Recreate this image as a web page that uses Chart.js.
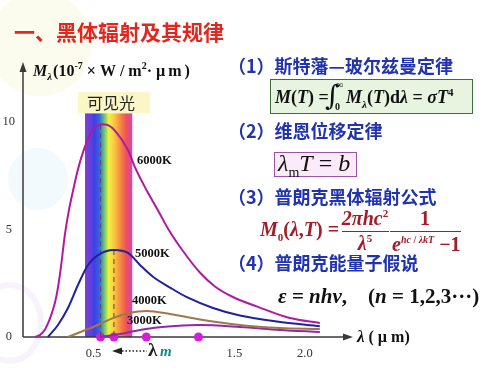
<!DOCTYPE html>
<html><head><meta charset="utf-8">
<script src="https://cdn.jsdelivr.net/npm/chart.js@4.4.1/dist/chart.umd.min.js"></script>
<style>
html,body{margin:0;padding:0;background:#fff;}
#wrap{position:relative;width:500px;height:375px;overflow:hidden;background:#fff;}
.bg{position:absolute;border-radius:50%;}
canvas{position:absolute;left:0;top:0;}
.t{position:absolute;white-space:nowrap;}
.cjk{font-family:"Noto Sans CJK SC","Noto Sans",sans-serif;font-weight:700;}
.h{color:#2233b0;font-size:18px;line-height:18px;left:228px;}
.m{font-family:"Liberation Serif","DejaVu Serif",serif;font-weight:700;}
.m i{font-style:italic;}
.m sub,.m sup{font-size:11px;line-height:0;}
.red{color:#a21c2c;}
.ctr{text-align:center;}
.fl{position:absolute;border-top:1.5px solid #a21c2c;height:0;}
</style></head>
<body><div id="wrap">
<div class="bg" style="left:-12px;top:-8px;width:104px;height:104px;background:rgba(246,248,214,0.45)"></div>
<div class="bg" style="left:8px;top:148px;width:60px;height:62px;background:rgba(234,245,252,0.55)"></div>
<div class="bg" style="left:-24px;top:282px;width:56px;height:70px;border:6px solid rgba(242,234,248,0.6);background:transparent"></div>
<canvas id="c" width="500" height="375"></canvas>

<div class="t cjk" style="left:14px;top:21px;font-size:21px;line-height:21px;color:#e4261e">一、黑体辐射及其规律</div>
<div class="t cjk h" style="top:56px">（1）斯特藩—玻尔兹曼定律</div>
<div class="t cjk h" style="top:121px">（2）维恩位移定律</div>
<div class="t cjk h" style="top:187px">（3）普朗克黑体辐射公式</div>
<div class="t cjk h" style="top:253px">（4）普朗克能量子假说</div>

<div class="t" style="left:270px;top:79px;width:203px;height:35px;box-sizing:border-box;border:1.5px solid #3d6e3d;background:#e6f4e0"></div>
<div class="t m" style="left:275px;top:88px;font-size:18px;line-height:18px;color:#111"><i>M</i>(<i>T</i>) =</div>
<div class="t" style="left:325px;top:82px;font-family:'DejaVu Serif',serif;font-size:28px;line-height:28px;color:#111">∫</div>
<div class="t m" style="left:336px;top:80px;font-size:10px;line-height:10px;color:#111">∞</div>
<div class="t m" style="left:335px;top:102px;font-size:10px;line-height:10px;color:#111">0</div>
<div class="t m" style="left:346px;top:88px;font-size:18px;line-height:18px;color:#111"><i>M</i><sub><i>λ</i></sub>(<i>T</i>)d<i>λ</i> = <i>σT</i><sup>4</sup></div>

<div class="t" style="left:274px;top:152px;width:83px;height:25px;box-sizing:border-box;border:1.5px solid #a050a8;background:#fbeaf8"></div>
<div class="t" style="left:278px;top:152px;font-family:'Liberation Serif',serif;font-size:24px;line-height:22px;color:#111"><i>λ</i><sub style="font-size:14px;line-height:0">m</sub><i>T</i> = <i>b</i></div>

<div class="t m red" style="left:260px;top:219px;font-size:20px;line-height:20px"><i>M</i><sub>0</sub>(<i>λ</i>,<i>T</i>) =</div>
<div class="t m red ctr" style="left:340px;top:208px;width:50px;font-size:20px;line-height:20px"><i>2πhc</i><sup>2</sup></div>
<div class="fl" style="left:342px;top:231px;width:47px"></div>
<div class="t m red ctr" style="left:340px;top:233px;width:50px;font-size:20px;line-height:20px"><i>λ</i><sup>5</sup></div>
<div class="t m red ctr" style="left:400px;top:208px;width:50px;font-size:20px;line-height:20px">1</div>
<div class="fl" style="left:390px;top:231px;width:71px"></div>
<div class="t m red" style="left:392px;top:234px;font-size:20px;line-height:20px"><i>e</i><sup style="font-size:10px"><i>hc</i> / <i>λkT</i></sup> −1</div>

<div class="t m" style="left:278px;top:286px;font-size:21px;line-height:21px;color:#111"><i>ε</i> = <i>nhν</i>,&nbsp;&nbsp;&nbsp;&nbsp;(<i>n</i> = 1,2,3···)</div>
</div>
<script>
// ---- data ----
const xTicks = [0.5, 1.5, 2.0];
const xTickLabels = ['0.5', '1.5', '2.0'];
const yTicks = [0, 5, 10];
const yTickLabels = ['0', '5', '10'];
const curveNames = ['6000K', '5000K', '4000K', '3000K'];

const lam6000 = [0.085,0.121,0.156,0.191,0.227,0.248,0.270,0.298,0.326,0.355,0.390,0.426,0.475,0.511,0.553,0.603,0.652,0.745,0.794,0.879,0.957,1.028,1.135,1.255,1.362,1.489,1.667,1.894,2.106];
const val6000 = [0,0.1,0.35,0.85,1.6,2.3,3.3,4.8,5.9,6.8,7.8,8.6,9.4,9.75,9.9,9.85,9.6,8.7,7.9,6.8,5.9,5.05,4.0,3.0,2.35,1.86,1.4,0.88,0.65];

const lam5000 = [0.177,0.248,0.319,0.390,0.461,0.532,0.645,0.745,0.830,0.922,1.043,1.163,1.348,1.539,1.800,2.106];
const val5000 = [0,0.56,1.35,2.42,3.35,3.81,4.05,3.91,3.35,2.8,2.3,1.85,1.35,1.0,0.72,0.5];

const lam4000 = [0.319,0.426,0.532,0.638,0.745,0.879,1.043,1.277,1.539,1.823,2.106];
const val4000 = [0,0.28,0.56,0.88,1.1,1.21,1.07,0.79,0.56,0.42,0.37];

const lam3000 = [0.546,0.688,0.794,0.922,1.078,1.248,1.539,1.823,2.106];
const val3000 = [0,0.14,0.28,0.42,0.51,0.56,0.47,0.33,0.23];

const lambdaM = [0.55, 0.645, 0.875, 1.245];
const peakVal = [9.9, 4.05, 1.21, 0.56];
const visibleBand = [0.44, 0.775];
const visibleTop = 10.4;

// ---- chart ----
const pts = (xs, ys) => xs.map((x, i) => ({x, y: ys[i]}));
const serif = '"Liberation Serif","DejaVu Serif",serif';

const decor = {
  id: 'decor',
  beforeDatasetsDraw(chart) {
    const {ctx, scales: {x, y}} = chart;
    const x0 = x.getPixelForValue(visibleBand[0]), x1 = x.getPixelForValue(visibleBand[1]);
    const yt = y.getPixelForValue(visibleTop), yb = y.getPixelForValue(0);
    const g = ctx.createLinearGradient(x0, 0, x1, 0);
    [[0,'#8040c8'],[0.12,'#6040e0'],[0.2,'#3c40e8'],[0.3,'#3a62d8'],[0.36,'#40a0a8'],[0.44,'#98d45c'],
     [0.5,'#f2f040'],[0.6,'#f8d040'],[0.7,'#f8a040'],[0.8,'#f27048'],[0.88,'#ec5060'],[0.95,'#e04a90'],[1,'#c84ab8']]
      .forEach(s => g.addColorStop(s[0], s[1]));
    ctx.save();
    ctx.fillStyle = g;
    ctx.fillRect(x0, yt, x1 - x0, yb - yt);
    // label box
    ctx.fillStyle = '#fbf6c6';
    ctx.fillRect(78, 92, 72, 21);
    ctx.fillStyle = '#222';
    ctx.font = '16px "Noto Sans CJK SC", sans-serif';
    ctx.textAlign = 'center'; ctx.textBaseline = 'middle';
    ctx.fillText('可见光', 111, 103);
    // axes with arrows
    const L = chart.chartArea.left, B = chart.chartArea.bottom, R = chart.chartArea.right, T = chart.chartArea.top;
    ctx.strokeStyle = '#3a3a3a'; ctx.fillStyle = '#3a3a3a'; ctx.lineWidth = 1.5;
    ctx.beginPath(); ctx.moveTo(L, B); ctx.lineTo(L, T); ctx.moveTo(L, B); ctx.lineTo(R, B); ctx.stroke();
    ctx.beginPath(); ctx.moveTo(L, T - 3); ctx.lineTo(L - 3.5, T + 7); ctx.lineTo(L + 3.5, T + 7); ctx.closePath(); ctx.fill();
    ctx.beginPath(); ctx.moveTo(R + 3, B); ctx.lineTo(R - 7, B - 3.5); ctx.lineTo(R - 7, B + 3.5); ctx.closePath(); ctx.fill();
    ctx.restore();
  },
  afterDatasetsDraw(chart) {
    const {ctx} = chart;
    ctx.save();
    ctx.fillStyle = '#111';
    ctx.textAlign = 'left'; ctx.textBaseline = 'middle';
    ctx.font = 'bold 12.5px ' + serif;
    ctx.fillText(curveNames[0], 137, 161);
    ctx.fillText(curveNames[1], 135, 254);
    ctx.fillText(curveNames[2], 132, 301);
    ctx.fillText(curveNames[3], 127, 321);
    // lambda_m arrow
    ctx.fillStyle = '#222';
    ctx.beginPath(); ctx.moveTo(112, 351); ctx.lineTo(122, 347.5); ctx.lineTo(122, 354.5); ctx.closePath(); ctx.fill();
    ctx.strokeStyle = '#222'; ctx.lineWidth = 1.6; ctx.setLineDash([1.5, 2]);
    ctx.beginPath(); ctx.moveTo(122, 351); ctx.lineTo(147, 351); ctx.stroke();
    ctx.setLineDash([]);
    ctx.textBaseline = 'alphabetic';
    ctx.font = 'bold 19px ' + serif;
    ctx.fillText('λ', 148, 356);
    ctx.fillStyle = '#0e8a8a';
    ctx.font = 'bold italic 15px ' + serif;
    ctx.fillText('m', 160, 356);
    // y axis title
    ctx.fillStyle = '#111';
    let px = 33, by = 76;
    const put = (t, f, dy, ls) => {
      ctx.font = f; ctx.letterSpacing = ls || '0px';
      ctx.fillText(t, px, by + (dy || 0)); px += ctx.measureText(t).width;
      ctx.letterSpacing = '0px';
    };
    put('M', 'bold italic 16px ' + serif);
    put('λ', 'bold italic 11px ' + serif, 4);
    px += 1;
    put('(10', 'bold 16px ' + serif);
    put('-7', 'bold 10px ' + serif, -7);
    put(' × W / m', 'bold 16px ' + serif);
    put('2', 'bold 10px ' + serif, -7);
    put('· ', 'bold 16px ' + serif);
    put('µm)', 'bold 16px ' + serif, 0, '3px');
    // x axis title
    px = 357; by = 342;
    put('λ', 'bold italic 17px ' + serif);
    put(' ( µ m)', 'bold 16px ' + serif);
    ctx.restore();
  }
};

const curveColors = ['#b01aa0', '#2020a0', '#a07848', '#9028a8'];
const curveSets = [[lam6000, val6000], [lam5000, val5000], [lam4000, val4000], [lam3000, val3000]];
const datasets = curveSets.map((c, i) => ({
  label: curveNames[i], data: pts(c[0], c[1]), borderColor: curveColors[i], borderWidth: 2,
  pointRadius: 0, cubicInterpolationMode: 'monotone', fill: false, clip: false
}));
[0, 1].forEach(i => datasets.push({
  label: 'peak ' + curveNames[i], data: [{x: lambdaM[i], y: peakVal[i]}, {x: lambdaM[i], y: 0}],
  borderColor: 'rgba(110,60,80,0.85)', borderWidth: 1.2, borderDash: [5, 4], pointRadius: 0, fill: false
}));
datasets.push({
  type: 'scatter', label: 'λm', data: lambdaM.map(l => ({x: l, y: 0})),
  pointRadius: 4.5, pointBackgroundColor: '#d61ed6', pointBorderWidth: 0, clip: false
});

new Chart(document.getElementById('c'), {
  type: 'line',
  data: {datasets},
  options: {
    responsive: false, animation: false, devicePixelRatio: 1,
    layout: {padding: {left: 0, right: 150, top: 65, bottom: 0}},
    plugins: {legend: {display: false}, tooltip: {enabled: false}},
    scales: {
      x: {
        type: 'linear', min: 0, max: 2.32,
        grid: {display: false, drawTicks: false}, border: {display: false},
        afterBuildTicks(s) { s.ticks = xTicks.map(v => ({value: v})); },
        afterFit(s) { s.height = 38; },
        ticks: {autoSkip: false, maxRotation: 0, padding: 9, color: '#333',
          font: {family: serif, size: 12.5}, callback: (v, i) => xTickLabels[i]}
      },
      y: {
        type: 'linear', min: 0, max: 12.65,
        grid: {display: false, drawTicks: false}, border: {display: false},
        afterBuildTicks(s) { s.ticks = yTicks.map(v => ({value: v})); },
        afterFit(s) { s.width = 23; },
        ticks: {autoSkip: false, padding: 8, crossAlign: 'center', color: '#333',
          font: {family: serif, size: 12.5}, callback: (v, i) => yTickLabels[i]}
      }
    }
  },
  plugins: [decor]
});
</script>
</body></html>
